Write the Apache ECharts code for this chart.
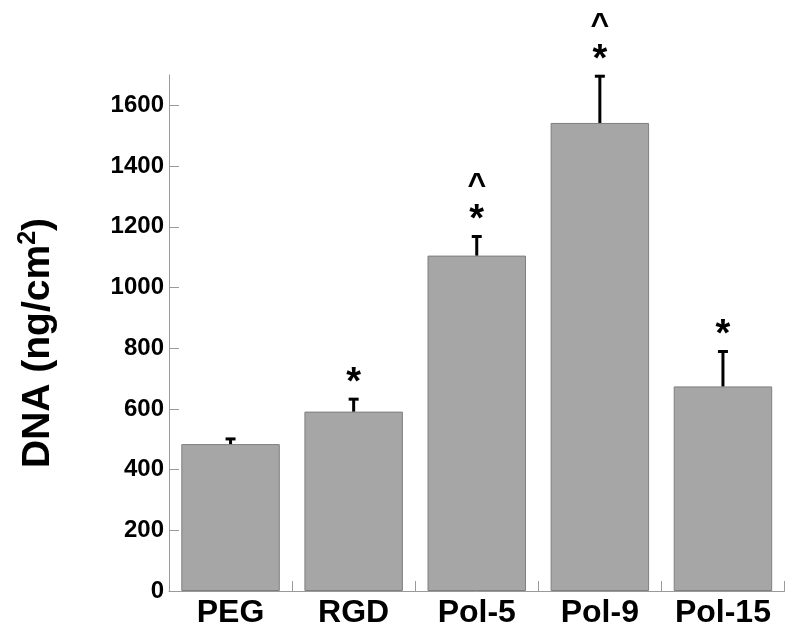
<!DOCTYPE html>
<html>
<head>
<meta charset="utf-8">
<script src="https://cdn.jsdelivr.net/npm/echarts@6/dist/echarts.min.js"></script>
<style>html,body{margin:0;padding:0;background:#fff}#c{width:800px;height:641px}</style>
</head>
<body>
<div id="c"></div>
<script>
const categories = ['PEG', 'RGD', 'Pol-5', 'Pol-9', 'Pol-15'];
const dnaMeans = [484, 591, 1105, 1542, 674];
const errorUpper = [501, 632, 1168, 1696, 789];
const sigStar = ['', '*', '*', '*', '*'];
const sigCaret = ['', '', '^', '^', ''];
const yTickValues = [0, 200, 400, 600, 800, 1000, 1200, 1400, 1600];
const yMax = 1700;

const chart = echarts.init(document.getElementById('c'), null, {renderer: 'canvas'});
const errData = categories.map((c, i) => [i, dnaMeans[i], errorUpper[i]]);
const FONT = '"Liberation Sans", Arial, sans-serif';

chart.setOption({
  animation: false,
  backgroundColor: '#fff',
  grid: {left: 169, right: 15.5, top: 75, bottom: 50, outerBoundsMode: 'none', containLabel: false},
  xAxis: {
    type: 'category',
    data: categories,
    axisLine: {lineStyle: {color: '#9a9a9a', width: 1}},
    axisTick: {show: true, inside: true, length: 10, alignWithLabel: false, interval: 0, lineStyle: {color: '#9a9a9a'}},
    axisLabel: {
      interval: 0, margin: 6, color: '#000',
      fontFamily: FONT, fontWeight: 'bold', fontSize: 32
    }
  },
  yAxis: {
    type: 'value',
    min: 0, max: yMax,
    splitLine: {show: false},
    axisLine: {show: true, lineStyle: {color: '#9a9a9a', width: 1}},
    axisTick: {show: true, inside: true, length: 10, customValues: yTickValues, lineStyle: {color: '#9a9a9a'}},
    axisLabel: {
      customValues: yTickValues, margin: 5, color: '#000',
      formatter: function (v) { return String(v); },
      fontFamily: FONT, fontWeight: 'bold', fontSize: 24
    },
    name: 'DNA (ng/cm{sup|2})',
    nameLocation: 'middle',
    nameRotate: 90,
    nameGap: 108,
    nameTextStyle: {
      color: '#000', fontFamily: FONT, fontWeight: 'bold', fontSize: 39,
      padding: [0, 20, 0, 0],
      rich: {sup: {fontSize: 25, fontWeight: 'bold', color: '#000', verticalAlign: 'top', padding: [0, 0, 20, 0], fontFamily: FONT}}
    }
  },
  series: [
    {
      type: 'bar',
      data: dnaMeans,
      barCategoryGap: '20%',
      itemStyle: {color: '#a6a6a6', borderColor: '#7f7f7f', borderWidth: 1}
    },
    {
      type: 'custom',
      data: errData,
      clip: false,
      z: 5,
      renderItem: function (params, api) {
        const i = params.dataIndex;
        const p0 = api.coord([api.value(0), api.value(1)]);
        const p1 = api.coord([api.value(0), api.value(2)]);
        const half = 5;
        const children = [
          {type: 'line', shape: {x1: p0[0], y1: p0[1], x2: p1[0], y2: p1[1] - 1}, style: {stroke: '#000', lineWidth: 3}},
          {type: 'line', shape: {x1: p1[0] - half, y1: p1[1], x2: p1[0] + half, y2: p1[1]}, style: {stroke: '#000', lineWidth: 3}}
        ];
        if (sigStar[i]) {
          children.push({type: 'text', x: p1[0], y: p1[1] + 3, style: {text: sigStar[i], fill: '#000', font: 'bold 38px ' + FONT, align: 'center', verticalAlign: 'bottom'}});
        }
        if (sigCaret[i]) {
          children.push({type: 'text', x: p1[0], y: p1[1] - 34, style: {text: sigCaret[i], fill: '#000', font: 'bold 32px ' + FONT, align: 'center', verticalAlign: 'bottom'}});
        }
        return {type: 'group', children: children};
      }
    }
  ]
});
</script>
</body>
</html>
